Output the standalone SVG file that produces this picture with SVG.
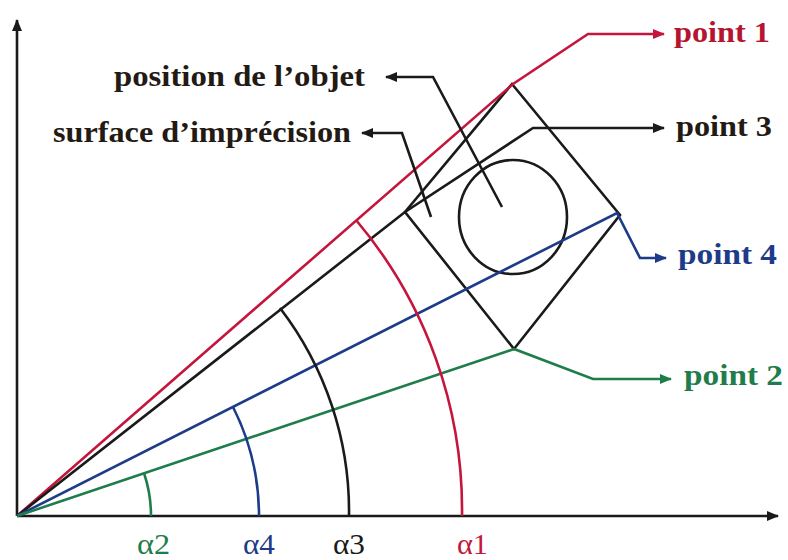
<svg xmlns="http://www.w3.org/2000/svg" width="788" height="560" viewBox="0 0 788 560">
<defs>
<style>
.ln{fill:none;stroke-width:2.6;stroke-linejoin:miter}
.k{stroke:#1a1a1a}.r{stroke:#c4163c}.b{stroke:#1d3b88}.g{stroke:#1f7d4c}
.lbl{font-family:"Liberation Serif","DejaVu Serif",serif;font-size:30px;font-weight:bold}
.pt{font-family:"Liberation Serif","DejaVu Serif",serif;font-size:29px;font-weight:bold}
.al{font-family:"Liberation Serif","DejaVu Serif",serif;font-size:30px}
</style>
<marker id="ak" markerWidth="12" markerHeight="10" refX="11" refY="5" orient="auto" markerUnits="userSpaceOnUse"><path d="M0,0 L12,5 L0,10 z" fill="#1a1a1a"/></marker>
<marker id="ar" markerWidth="12" markerHeight="10" refX="11" refY="5" orient="auto" markerUnits="userSpaceOnUse"><path d="M0,0 L12,5 L0,10 z" fill="#c4163c"/></marker>
<marker id="ab" markerWidth="12" markerHeight="10" refX="11" refY="5" orient="auto" markerUnits="userSpaceOnUse"><path d="M0,0 L12,5 L0,10 z" fill="#1d3b88"/></marker>
<marker id="ag" markerWidth="12" markerHeight="10" refX="11" refY="5" orient="auto" markerUnits="userSpaceOnUse"><path d="M0,0 L12,5 L0,10 z" fill="#1f7d4c"/></marker>
</defs>
<rect width="788" height="560" fill="#ffffff"/>
<g id="axes">
<path class="ln k" d="M17,516 L17,20" marker-end="url(#ak)"/>
<path class="ln k" d="M17,516 L778,516" marker-end="url(#ak)"/>
</g>
<g id="object">
<polygon class="ln k" points="512,84 620,215 514,349 405,212"/>
<ellipse class="ln k" cx="513" cy="217" rx="54" ry="57" stroke-width="3.2"/>
</g>
<g id="connectors">
<path class="ln r" d="M17,516 L513,84 L588,34 L664,34" marker-end="url(#ar)"/>
<path class="ln k" d="M17,516 L405,212 L533,128 L664,128" marker-end="url(#ak)"/>
<path class="ln b" d="M17,516 L617,213 L640,258 L666,258" marker-end="url(#ab)"/>
<path class="ln g" d="M17,516 L514,349 L593,379 L671,379" marker-end="url(#ag)"/>
<path class="ln k" d="M502,207 L433,77 L386,77" marker-end="url(#ak)"/>
<path class="ln k" d="M431,217 L402,133 L362,133" marker-end="url(#ak)"/>
</g>
<g id="arcs">
<path class="ln g" d="M144,473 A134,134 0 0 1 151,516"/>
<path class="ln b" d="M233,407 A242,242 0 0 1 259,516"/>
<path class="ln k" d="M280,308 A334,334 0 0 1 349,516"/>
<path class="ln r" d="M356,220 A449,449 0 0 1 462,516"/>
</g>
<g id="labels">
<text class="lbl" x="114" y="86" textLength="251" lengthAdjust="spacingAndGlyphs" fill="#231a14">position de l’objet</text>
<text class="lbl" x="53" y="142" textLength="298" lengthAdjust="spacingAndGlyphs" fill="#231a14">surface d’imprécision</text>
<text class="pt" x="674" y="42" textLength="96" lengthAdjust="spacingAndGlyphs" fill="#b5152f">point 1</text>
<text class="pt" x="676" y="136" textLength="96" lengthAdjust="spacingAndGlyphs" fill="#231a14">point 3</text>
<text class="pt" x="678" y="264" textLength="99" lengthAdjust="spacingAndGlyphs" fill="#1d3b88">point 4</text>
<text class="pt" x="684" y="385" textLength="99" lengthAdjust="spacingAndGlyphs" fill="#1f7d4c">point 2</text>
<text class="al" x="137" y="554" textLength="33" lengthAdjust="spacingAndGlyphs" fill="#1f7d4c">α2</text>
<text class="al" x="243" y="554" textLength="32" lengthAdjust="spacingAndGlyphs" fill="#1d3b88">α4</text>
<text class="al" x="333" y="554" textLength="32" lengthAdjust="spacingAndGlyphs" fill="#1a1a1a">α3</text>
<text class="al" x="457" y="554" textLength="31" lengthAdjust="spacingAndGlyphs" fill="#c4163c">α1</text>
</g>
</svg>
